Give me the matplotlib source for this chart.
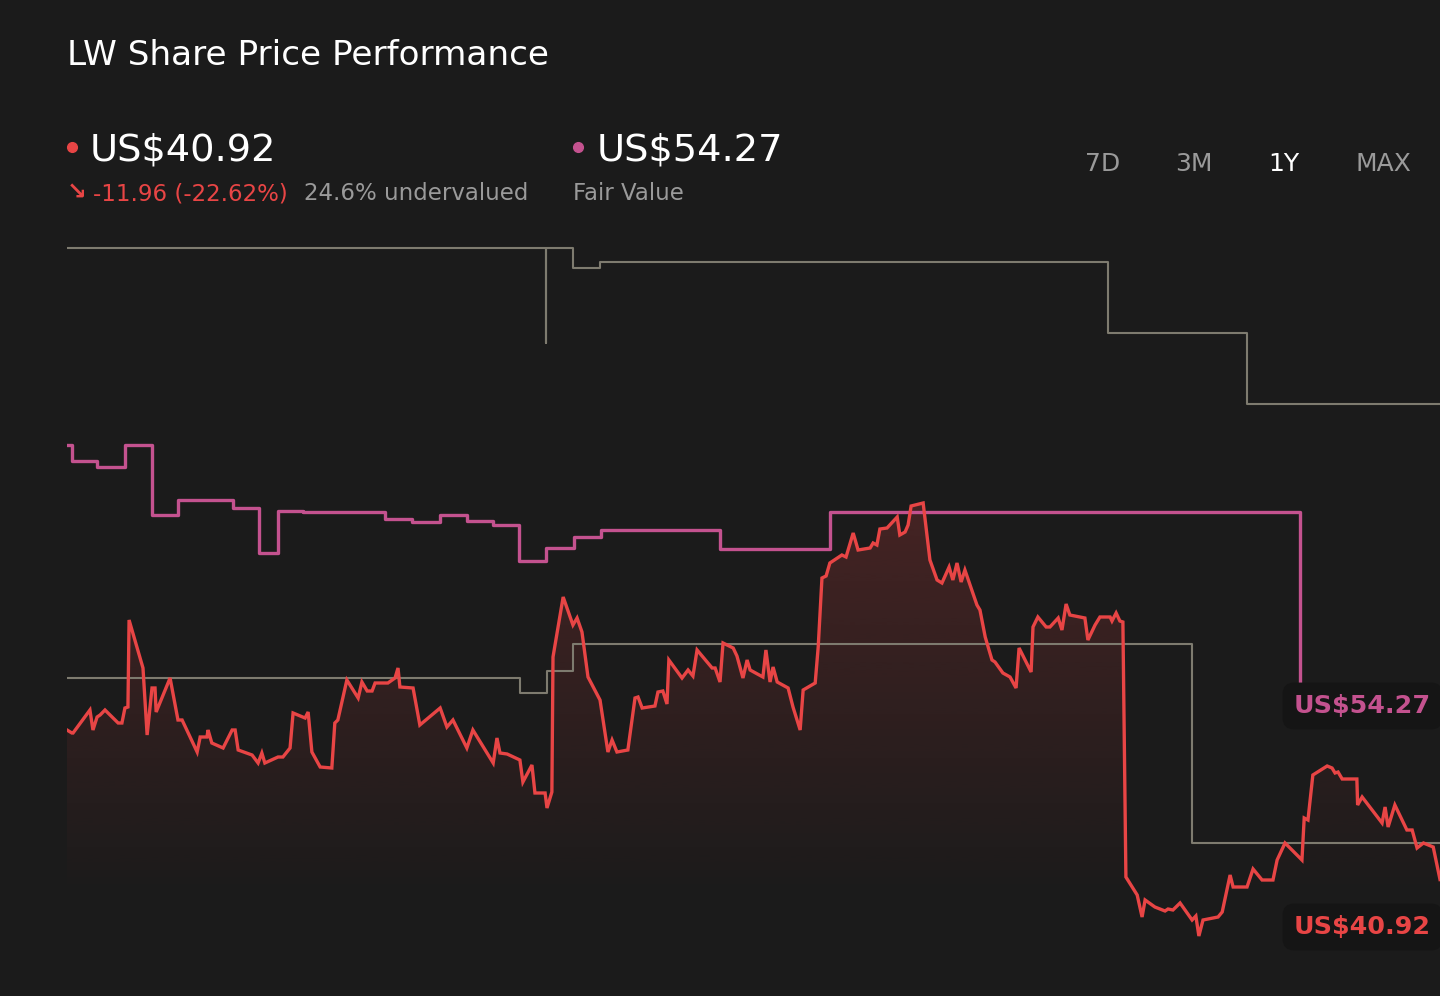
import numpy as np
import matplotlib
matplotlib.use("Agg")
import matplotlib.pyplot as plt
from matplotlib.lines import Line2D
from matplotlib.colors import to_rgb

# ---------------- data (days since start of 1Y window, US$) ----------------
price_days = [0, 1.3, 1.6, 6.1, 6.9, 8.0, 8.8, 10.1, 13.6, 14.6,
              15.4, 16.2, 16.5, 20.2, 21.3, 22.6, 23.4, 23.7, 27.4, 29.5,
              30.6, 34.6, 35.4, 37.2, 37.5, 38.5, 41.5, 43.9, 44.7, 45.5,
              49.2, 50.8, 51.8, 52.6, 56.1, 57.4, 59.3, 60.1, 63.3, 64.1,
              65.1, 67.3, 70.4, 71.2, 72.0, 74.4, 77.4, 78.4, 79.8, 81.1,
              81.9, 85.3, 87.2, 88.0, 88.5, 92.0, 93.8, 99.2, 101.0, 102.6,
              106.3, 107.9, 113.3, 114.3, 115.1, 117.0, 120.4, 121.2, 123.6, 124.4,
              127.1, 127.6, 128.9, 129.2, 131.9, 134.5, 135.6, 136.9, 138.5, 141.7,
              143.8, 144.9, 146.2, 149.1, 151.0, 151.8, 152.9, 156.3, 157.1, 158.4,
              159.5, 160.0, 163.5, 165.1, 166.4, 167.5, 171.5, 172.3, 173.6, 174.4,
              177.1, 178.1, 179.7, 180.8, 181.6, 185.0, 185.8, 186.9, 187.7, 188.8,
              191.7, 193.0, 194.9, 195.7, 198.9, 199.7, 200.7, 201.8, 202.8, 206.0,
              207.1, 209.0, 210.3, 213.5, 214.3, 215.3, 216.1, 218.0, 220.7, 221.4,
              222.8, 223.6, 224.4, 227.6, 229.4, 231.3, 232.6, 234.5, 235.5, 236.6,
              237.7, 238.7, 241.9, 242.7, 244.1, 245.9, 246.7, 248.8, 250.7, 252.3,
              253.1, 256.3, 256.8, 258.1, 260.3, 261.3, 263.5, 264.5, 265.6, 266.6,
              270.6, 271.4, 273.3, 274.6, 277.3, 277.8, 278.9, 279.9, 280.7, 281.5,
              284.5, 285.8, 286.6, 289.2, 291.9, 292.7, 294.0, 295.9, 299.1, 300.1,
              300.9, 302.0, 306.0, 307.1, 309.2, 310.0, 313.7, 315.3, 317.7, 320.6,
              321.7, 323.8, 328.3, 328.9, 329.9, 331.2, 335.0, 336.3, 337.1, 337.9,
              339.0, 342.9, 343.1, 344.3, 349.6, 350.4, 351.2, 353.0, 356.2, 357.6,
              358.9, 360.6, 363.2, 365.0]
price = [52.88, 52.64, 52.64, 54.48, 52.88, 53.92, 54.08, 54.48, 53.44, 53.44,
         54.64, 54.72, 61.68, 57.84, 52.48, 56.24, 56.24, 54.32, 57.04, 53.68,
         53.68, 51.12, 52.32, 52.32, 52.88, 51.84, 51.44, 52.88, 52.88, 51.28,
         50.88, 50.24, 51.04, 50.24, 50.72, 50.72, 51.44, 54.24, 53.84, 54.32,
         51.12, 49.92, 49.84, 53.44, 53.68, 56.88, 55.44, 56.72, 56.00, 56.00,
         56.64, 56.64, 57.04, 57.84, 56.32, 56.24, 53.28, 54.64, 53.12, 53.68,
         51.44, 52.88, 50.24, 52.24, 51.04, 50.96, 50.48, 48.72, 50.08, 47.84,
         47.84, 46.64, 47.92, 58.72, 63.52, 61.28, 61.84, 60.72, 57.12, 55.28,
         51.12, 52.08, 51.12, 51.28, 55.44, 55.52, 54.64, 54.80, 55.92, 56.00,
         54.96, 58.48, 57.04, 57.68, 57.20, 59.28, 57.84, 57.84, 56.72, 59.84,
         59.44, 58.80, 57.04, 58.48, 57.68, 57.12, 59.28, 56.72, 57.92, 56.72,
         56.24, 54.72, 52.88, 56.08, 56.64, 59.52, 65.04, 65.20, 66.24, 66.88,
         66.72, 68.64, 67.28, 67.44, 67.84, 67.68, 68.96, 69.04, 69.92, 68.48,
         68.72, 69.28, 70.80, 71.04, 66.48, 64.88, 64.64, 65.92, 64.88, 66.24,
         64.72, 65.68, 62.88, 62.48, 60.32, 58.48, 58.32, 57.44, 57.12, 56.24,
         59.44, 57.52, 61.12, 61.92, 61.12, 61.12, 61.84, 60.88, 62.96, 62.08,
         61.84, 60.08, 61.28, 61.92, 61.92, 61.60, 62.24, 61.60, 61.52, 41.12,
         39.68, 37.92, 39.28, 38.72, 38.40, 38.56, 38.48, 39.04, 37.68, 38.00,
         36.40, 37.68, 37.92, 38.32, 41.28, 40.32, 40.32, 41.76, 40.88, 40.88,
         42.48, 43.84, 42.48, 45.84, 45.68, 49.28, 50.00, 49.84, 49.44, 49.52,
         48.96, 48.96, 46.88, 47.52, 45.44, 46.72, 45.12, 46.88, 44.88, 44.88,
         43.44, 43.84, 43.52, 40.92]

fv_days = [0, 1.3, 8.0, 15.4, 22.6, 29.5, 44.1, 51.0, 56.1, 62.7, 84.5, 91.7,
           99.2, 106.3, 113.3, 120.2, 127.3, 134.8, 142.0, 173.6, 202.8, 327.8, 365]
fair_value = [75.68, 74.40, 73.92, 75.68, 70.08, 71.28, 70.64, 67.04, 70.40, 70.32,
              69.76, 69.52, 70.08, 69.60, 69.28, 66.40, 67.44, 68.32, 68.88, 67.36,
              70.32, 54.27, 54.27]

target_high_days = [0, 127.3, 127.35, 134.5, 141.7, 276.7, 313.7, 365]
target_high = [91.44, 83.84, 91.44, 89.84, 90.32, 84.64, 78.96, 78.96]

target_low_days = [0, 120.4, 127.6, 134.5, 299.1, 365]
target_low = [57.04, 55.84, 57.60, 59.76, 43.84, 43.84]

title = "LW Share Price Performance"
last_price = "US$40.92"
change_text = "-11.96 (-22.62%)"
valuation_text = "24.6% undervalued"
fair_value_text = "US$54.27"
periods = ["7D", "3M", "1Y", "MAX"]
active_period = "1Y"

# ---------------- style ----------------
BG = "#1b1b1b"
RED = "#e84545"
PINK = "#c4528f"
GRAY = "#7e7b6f"
SUB = "#9a9a9a"
W, H = 1440, 996

def fx(px):
    return px / W

def fy(py):
    return 1 - py / H

plt.rcParams["font.family"] = ["DejaVu Sans"]
fig = plt.figure(figsize=(14.4, 9.96), dpi=100, facecolor=BG)

ax_top_px, ax_bot_px = 240, 960
ax = fig.add_axes([fx(67), fy(ax_bot_px), 1 - fx(67), (ax_bot_px - ax_top_px) / H])
ax.set_facecolor(BG)
ymin, ymax = 34.48, 92.08

# gradient fill under price
top = max(price)
fade_bottom = 39.3
n = 400
vals = np.linspace(top, ymin, n)
alpha = np.clip((vals - fade_bottom) / (top - fade_bottom), 0, 1) * 0.21
img = np.zeros((n, 1, 4))
img[..., :3] = to_rgb(RED)
img[..., 3] = alpha[:, None]
im = ax.imshow(img, extent=[0, 365, ymin, top], aspect="auto", origin="upper",
               zorder=1, interpolation="bilinear")
poly = ax.fill_between(price_days, price, ymin, facecolor="none", edgecolor="none")
im.set_clip_path(poly.get_paths()[0], transform=ax.transData)

ax.plot(target_high_days, target_high, drawstyle="steps-post", color=GRAY, lw=1.5, zorder=2)
ax.plot(target_low_days, target_low, drawstyle="steps-post", color=GRAY, lw=1.5, zorder=2)
ax.plot(fv_days, fair_value, drawstyle="steps-post", color=PINK, lw=2.4, zorder=3)
ax.plot(price_days, price, color=RED, lw=2.4, zorder=4, solid_joinstyle="miter")

ax.set_xlim(0, 365)
ax.set_ylim(ymin, ymax)
ax.axis("off")

# header
fig.text(fx(67), fy(65), title, fontsize=24.7, color="white", va="baseline")
fig.add_artist(Line2D([fx(72)], [fy(147)], marker="o", ms=7, color=RED,
                      transform=fig.transFigure))
fig.text(fx(90), fy(160.5), last_price, fontsize=27.6, color="white", va="baseline")
fig.text(fx(67), fy(200), "\u2198", fontsize=17, color=RED, va="baseline",
         fontweight="bold")
fig.text(fx(93), fy(200), change_text, fontsize=16.5, color=RED, va="baseline")
fig.text(fx(304), fy(200), valuation_text, fontsize=16.5, color=SUB, va="baseline")
fig.add_artist(Line2D([fx(578)], [fy(147)], marker="o", ms=7, color=PINK,
                      transform=fig.transFigure))
fig.text(fx(597), fy(160.5), fair_value_text, fontsize=27.6, color="white", va="baseline")
fig.text(fx(573), fy(200), "Fair Value", fontsize=16.5, color=SUB, va="baseline")

for label, px in zip(periods, [1085, 1175, 1268, 1355]):
    fig.text(fx(px), fy(171), label, fontsize=18,
             color="white" if label == active_period else SUB, va="baseline")

# end labels (sized so they just fit at the right edge)
box = dict(boxstyle="round,pad=0.45", fc="#151515", ec="none")
fig.text(fx(1294), fy(713), fair_value_text, fontsize=18.3, fontweight="bold",
         color=PINK, va="baseline", bbox=box)
fig.text(fx(1294), fy(934), last_price, fontsize=18.3, fontweight="bold",
         color=RED, va="baseline", bbox=box)

fig.savefig("out.png", dpi=100, facecolor=BG)
